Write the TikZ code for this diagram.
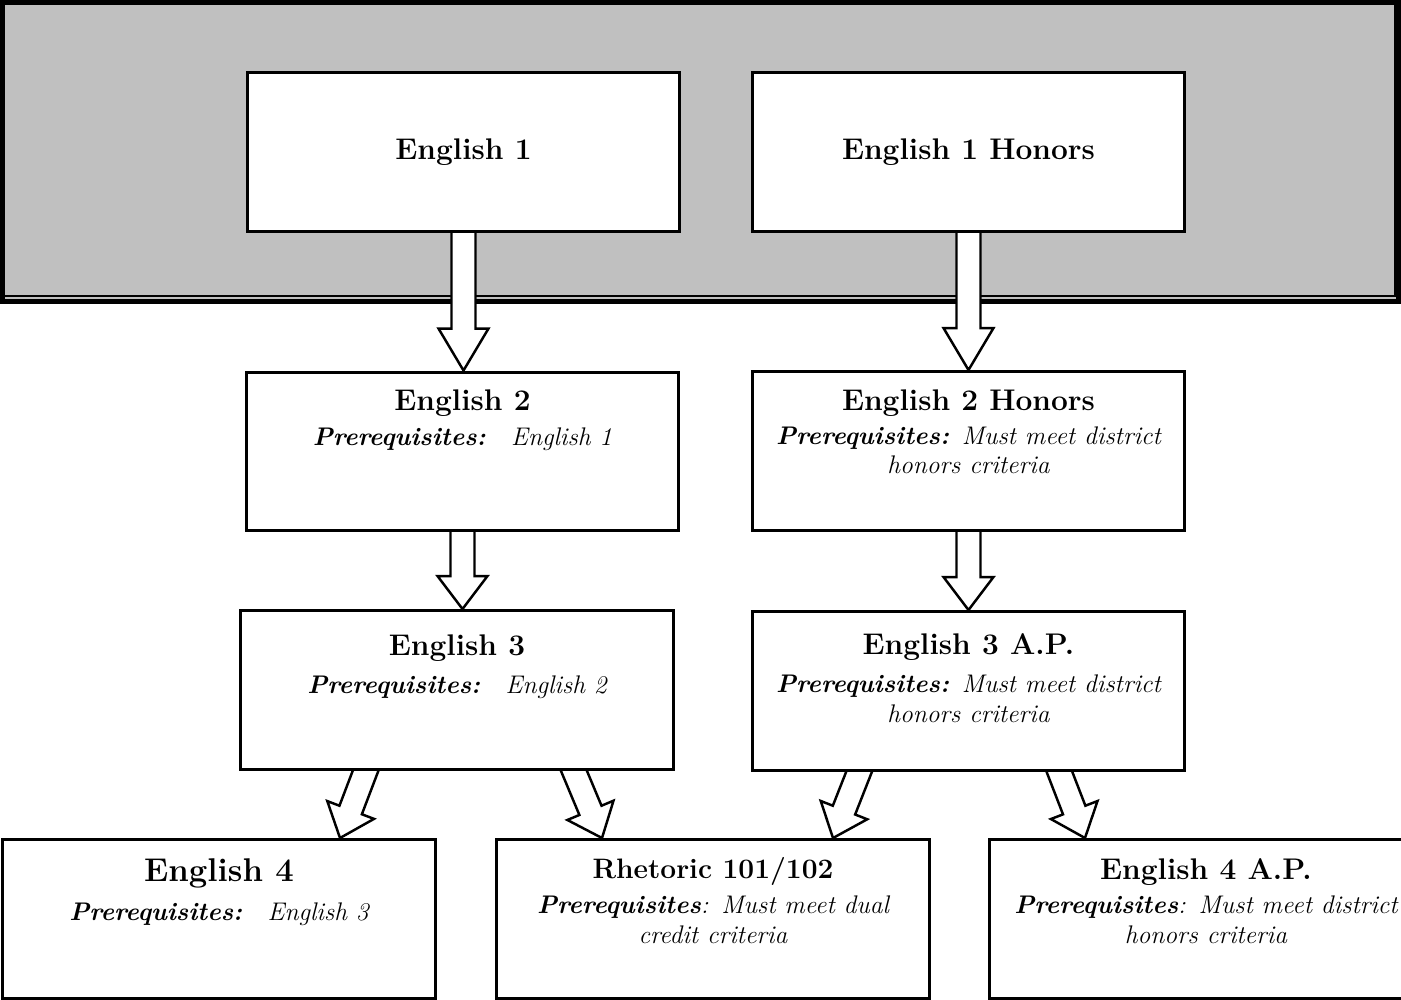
\documentclass[tikz,border=0pt]{standalone}
\usepackage{tikz}
\usetikzlibrary{positioning,calc,backgrounds}

\definecolor{panelgray}{RGB}{192,192,192}

% hollow block arrow: from, to, length of the head
\newcommand{\blockarrow}[3]{%
  \coordinate (ba-s) at ($(#1)!-0.2cm!(#2)$);
  \coordinate (ba-h) at ($(#2)!#3!(#1)$);
  \filldraw[block arrow] ($(ba-s)!0.24cm!90:(#2)$) -- ($(ba-h)!0.24cm!90:(#2)$)
    -- ($(ba-h)!0.5cm!90:(#2)$) -- (#2) -- ($(ba-h)!0.5cm!-90:(#2)$)
    -- ($(ba-h)!0.24cm!-90:(#2)$) -- ($(ba-s)!0.24cm!-90:(#2)$) -- cycle;}

\begin{document}
\begin{tikzpicture}
        [ x=0.02cm, y=-0.02cm,
          coursebox/.style = {draw=black,line width=1.7pt,fill=white,inner sep=0pt,
                              minimum width=8.66cm,minimum height=3.18cm},
          titlefont/.style = {font=\fontsize{17}{20}\selectfont\bfseries},
          coursetitle/.style = {titlefont,inner sep=0pt,anchor=base},
          prereq/.style = {font=\fontsize{14.5}{17}\selectfont\itshape,align=center,
                           inner sep=0pt,anchor=north},
          panel/.style = {fill=panelgray,draw=black,line width=2.8pt},
          block arrow/.style = {draw=black,fill=white,line width=1.4pt,line join=miter}]
        \useasboundingbox (0,0) rectangle (1401,1000);

        % first year
        \node[coursebox,titlefont] (e1) at (463.5,152) {English 1};
        \node[coursebox,titlefont] (e1h) at (968.5,152) {English 1 Honors};

        % second year
        \node[coursebox] (e2) at (462.5,451.5) {};
        \node[coursetitle] (e2t) at ($(e2.north)+(0,40)$) {English 2};
        \node[prereq] (e2p) at ($(e2.north)+(0,57)$)
            {{\bfseries Prerequisites:}\quad English 1};
        \node[coursebox] (e2h) at (968.5,451) {};
        \node[coursetitle] (e2ht) at ($(e2h.north)+(0,40.5)$) {English 2 Honors};
        \node[prereq] (e2hp) at ($(e2h.north)+(0,56)$)
            {{\bfseries Prerequisites:}\enskip Must meet district\\ honors criteria};

        % third year
        \node[coursebox] (e3) at (457,690) {};
        \node[coursetitle] (e3t) at ($(e3.north)+(0,46)$) {English 3};
        \node[prereq] (e3p) at ($(e3.north)+(0,66)$)
            {{\bfseries Prerequisites:}\quad English 2};
        \node[coursebox] (e3ap) at (968.5,691) {};
        \node[coursetitle] (e3apt) at ($(e3ap.north)+(0,44.5)$) {English 3 A.P.};
        \node[prereq] (e3app) at ($(e3ap.north)+(0,64.5)$)
            {{\bfseries Prerequisites:}\enskip Must meet district\\ honors criteria};

        % fourth year
        \node[coursebox] (e4) at (219,919) {};
        \node[coursetitle,font=\fontsize{18.7}{22}\selectfont\bfseries] (e4t)
            at ($(e4.north)+(0,43.5)$) {English 4};
        \node[prereq] (e4p) at ($(e4.north)+(0,64)$)
            {{\bfseries Prerequisites:}\quad English 3};
        \node[coursebox] (rh) at (713,919) {};
        \node[coursetitle,font=\fontsize{16}{19}\selectfont\bfseries] (rht)
            at ($(rh.north)+(0,40)$) {Rhetoric 101/102};
        \node[prereq] (rhp) at ($(rh.north)+(0,57.5)$)
            {{\bfseries Prerequisites}:\enskip Must meet dual\\ credit criteria};
        \node[coursebox] (e4ap) at (1206,919) {};
        \node[coursetitle] (e4apt) at ($(e4ap.north)+(0,41)$) {English 4 A.P.};
        \node[prereq] (e4app) at ($(e4ap.north)+(0,57.5)$)
            {{\bfseries Prerequisites}:\enskip Must meet district\\ honors criteria};

        \begin{pgfonlayer}{background}
            % grey band behind the first year
            \draw[panel] (2.5,2.5) rectangle (1398.5,301.5);
            \draw[line width=0.85pt] (4,296) -- (1395,296) -- (1395,4);

            % straight arrows
            \coordinate (a1e) at (e1.south |- e2.north);
            \coordinate (a2e) at (e1h.south |- e2h.north);
            \coordinate (a3e) at (e2.south |- e3.north);
            \coordinate (a4e) at (e2h.south |- e3ap.north);
            \blockarrow{e1.south}{a1e}{0.84cm}
            \blockarrow{e1h.south}{a2e}{0.84cm}
            \blockarrow{e2.south}{a3e}{0.66cm}
            \blockarrow{e2h.south}{a4e}{0.66cm}

            % slanted arrows into the last year
            \coordinate (a5s) at ($(e3.south)+(-91.5,0)$);
            \coordinate (a5e) at ($(e4.north)+(121,0)$);
            \coordinate (a6s) at ($(e3.south)+(117,0)$);
            \coordinate (a6e) at ($(rh.north)+(-111,0)$);
            \coordinate (a7s) at ($(e3ap.south)+(-109.5,0)$);
            \coordinate (a7e) at ($(rh.north)+(120,0)$);
            \coordinate (a8s) at ($(e3ap.south)+(91,0)$);
            \coordinate (a8e) at ($(e4ap.north)+(-121,0)$);
            \blockarrow{a5s}{a5e}{0.6cm}
            \blockarrow{a6s}{a6e}{0.6cm}
            \blockarrow{a7s}{a7e}{0.6cm}
            \blockarrow{a8s}{a8e}{0.6cm}
        \end{pgfonlayer}
\end{tikzpicture}
\end{document}
